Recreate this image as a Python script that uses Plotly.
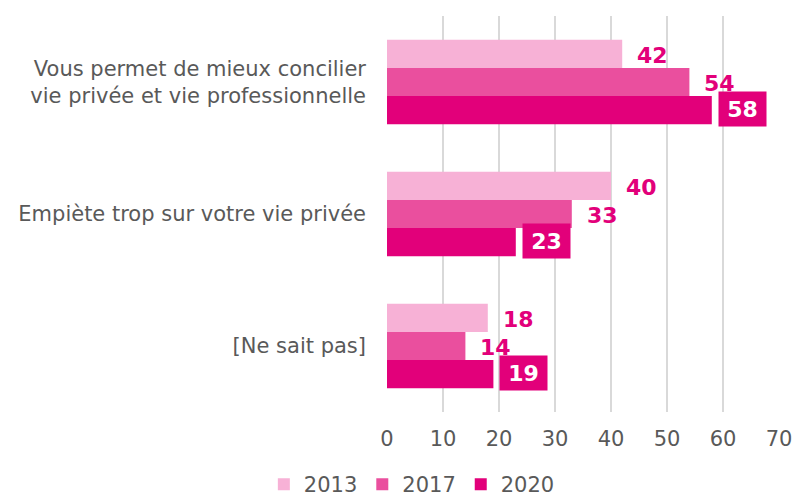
import plotly.graph_objects as go

categories = ["Vous permet de mieux concilier<br>vie privée et vie professionnelle",
              "Empiète trop sur votre vie privée",
              "[Ne sait pas]"]
years = ["2013", "2017", "2020"]
values_2013 = [42, 40, 18]
values_2017 = [54, 33, 14]
values_2020 = [58, 23, 19]
series = [values_2013, values_2017, values_2020]
colors = ["#F7B1D6", "#EA4F9E", "#E2007A"]

FONT = "DejaVu Sans"
GRAY = "#595959"

fig = go.Figure()
for name, vals, col in zip(years, series, colors):
    fig.add_trace(go.Bar(
        y=categories, x=vals, name=name, orientation="h",
        marker=dict(color=col, line=dict(width=0)),
    ))

annotations = []
shifts = [28, 0, -28]
for i, (vals, sh) in enumerate(zip(series, shifts)):
    for cat, v in zip(categories, vals):
        if i < 2:
            annotations.append(dict(
                x=v, y=cat, xref="x", yref="y", text=f"<b>{v}</b>", showarrow=False,
                xanchor="left", yanchor="middle", xshift=13, yshift=sh - 1,
                font=dict(family=FONT, size=22, color="#E2007A")))
        else:
            annotations.append(dict(
                x=v, y=cat, xref="x", yref="y", text=f"<b>{v}</b>", showarrow=False,
                xanchor="left", yanchor="middle", xshift=6, yshift=sh + 1,
                bgcolor="#E2007A", borderpad=5, width=37, height=24,
                font=dict(family=FONT, size=22, color="white")))

fig.update_layout(
    width=792, height=500,
    margin=dict(l=387, r=13, t=16, b=88),
    plot_bgcolor="white", paper_bgcolor="white",
    barmode="group", bargap=0.36, bargroupgap=0,
    font=dict(family=FONT, size=21, color=GRAY),
    xaxis=dict(range=[0, 70], dtick=10, showgrid=True, gridcolor="#D9D9D9", gridwidth=1.5,
               zeroline=False, showline=False, ticks="", tickfont=dict(size=21, color=GRAY),
               ticklabelstandoff=12, ticklabeloverflow="allow", automargin=False),
    yaxis=dict(autorange="reversed", showgrid=False, zeroline=False, showline=False, ticks="",
               tickfont=dict(size=21, color=GRAY), ticklabelstandoff=20, automargin=False),
    legend=dict(orientation="h", xref="container", yref="container", x=0.52, y=0.072,
                xanchor="center", yanchor="top", font=dict(size=21, color=GRAY),
                traceorder="normal", itemwidth=30),
    annotations=annotations,
)
fig.write_html("out.html", post_script="document.body.style.margin='0';",
               config={"displayModeBar": False})
